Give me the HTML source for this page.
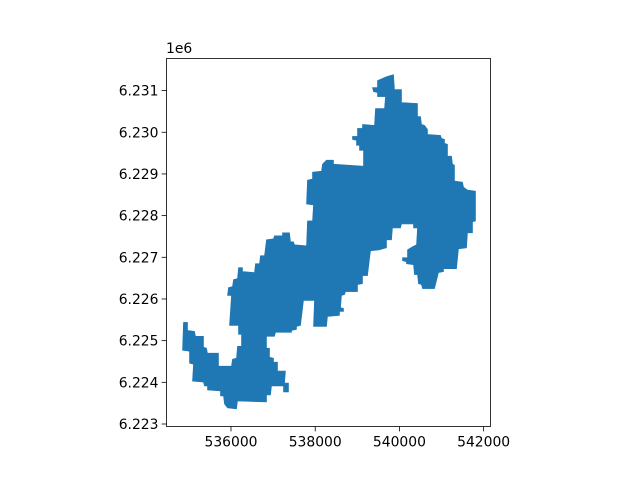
<!DOCTYPE html>
<html><head><meta charset="utf-8"><style>
body{margin:0;background:#fff;}
svg text{font-family:"DejaVu Sans","Liberation Sans",sans-serif;font-size:13.9px;fill:#000;}
</style></head><body>
<svg id="chart" width="640" height="480" viewBox="0 0 640 480" xmlns="http://www.w3.org/2000/svg">
<rect width="640" height="480" fill="#fff"/>
<g id="plot"></g>
<g id="axes"></g>
<text x="166" y="53">1e6</text>
</svg>
<script>
const xTicks = [536000, 538000, 540000, 542000];
const xTickLabels = ["536000", "538000", "540000", "542000"];
const yTicks = [6223000, 6224000, 6225000, 6226000, 6227000, 6228000, 6229000, 6230000, 6231000];
const yTickLabels = ["6.223", "6.224", "6.225", "6.226", "6.227", "6.228", "6.229", "6.230", "6.231"];
const polyX = [539859,539883,540049,540049,540429,540429,540501,540524,540596,540667,540667,540976,540999,541071,541071,541142,541142,541237,541261,541308,541308,541498,541522,541617,541807,541807,541736,541736,541617,541593,541403,541356,541047,541047,540928,540833,540548,540524,540453,540429,540358,540334,540168,540168,540073,540073,540192,540192,540311,540406,540429,540334,540334,540049,540026,539836,539812,539693,539693,539527,539313,539242,539123,539123,539004,539004,538719,538696,538624,538601,538672,538672,538577,538577,538292,538268,537959,537983,537722,537651,537556,537556,537437,537437,537057,537033,536843,536843,536914,536914,537009,537009,537104,537104,537294,537271,537366,537366,537247,537247,536962,536938,536843,536843,536154,536131,535917,535846,535822,535751,535751,535442,535442,535371,535347,535086,535109,535014,535014,534848,534872,534967,534967,535133,535157,535347,535347,535418,535442,535703,535703,536012,536036,536131,536154,536249,536249,536178,536178,535964,536012,535917,535941,536036,536059,536154,536178,536273,536273,536558,536582,536677,536701,536796,536843,537009,537033,537223,537223,537389,537413,537484,537508,537793,537817,537936,537959,537793,537817,537936,537936,538149,538173,538268,538434,538434,539147,539147,539052,539052,538981,538981,538886,538886,539004,539004,539123,539123,539408,539432,539646,539669,539479,539479,539384,539361,539479,539479,539693];
const polyY = [6231382,6231024,6231024,6230714,6230690,6230379,6230379,6230188,6230165,6230069,6229950,6229926,6229854,6229830,6229735,6229711,6229425,6229425,6229234,6229210,6228828,6228804,6228685,6228613,6228589,6227873,6227849,6227587,6227587,6227229,6227205,6226727,6226727,6226656,6226632,6226250,6226250,6226345,6226369,6226584,6226584,6226823,6226847,6226894,6226918,6226990,6226990,6227181,6227252,6227300,6227706,6227706,6227801,6227801,6227706,6227706,6227419,6227419,6227229,6227181,6227157,6226560,6226560,6226369,6226345,6226178,6226178,6226107,6226083,6225796,6225772,6225701,6225701,6225605,6225582,6225343,6225343,6225963,6225963,6225367,6225343,6225271,6225247,6225200,6225200,6225104,6225104,6224818,6224818,6224603,6224579,6224483,6224483,6224269,6224269,6223982,6223982,6223767,6223767,6223911,6223911,6223696,6223696,6223529,6223553,6223362,6223386,6223481,6223672,6223672,6223791,6223815,6223911,6223911,6224006,6224030,6224436,6224460,6224746,6224770,6225438,6225438,6225247,6225223,6225104,6225104,6224842,6224818,6224698,6224698,6224388,6224388,6224555,6224579,6224865,6224865,6225152,6225152,6225367,6225367,6226083,6226083,6226274,6226298,6226465,6226488,6226751,6226751,6226656,6226632,6226847,6226847,6227038,6227038,6227419,6227443,6227515,6227515,6227587,6227587,6227372,6227372,6227300,6227276,6227873,6227873,6228255,6228279,6228852,6228876,6229043,6229067,6229234,6229329,6229329,6229234,6229186,6229568,6229568,6229687,6229687,6229806,6229830,6229902,6229902,6230093,6230093,6230188,6230165,6230570,6230570,6230857,6230857,6230952,6230976,6231072,6231072,6231239,6231334];

const L = 166.5, R = 490.5, T = 58.5, B = 426.5;
const xMin = 534468, xMax = 542163, yMin = 6222940, yMax = 6231770;
function sx(v){ return L + (v - xMin) / (xMax - xMin) * (R - L); }
function sy(v){ return B - (v - yMin) / (yMax - yMin) * (B - T); }
const NS = "http://www.w3.org/2000/svg";
const plot = document.getElementById('plot');
const axes = document.getElementById('axes');

const poly = document.createElementNS(NS, 'polygon');


poly.setAttribute('points', polyX.map((x, i) => sx(x).toFixed(1) + ',' + sy(polyY[i]).toFixed(1)).join(' '));
poly.setAttribute('fill', '#1f77b4');
poly.setAttribute('stroke', '#1f77b4');
poly.setAttribute('stroke-width', '0.6');
plot.appendChild(poly);

const frame = document.createElementNS(NS, 'rect');


frame.setAttribute('x', L); frame.setAttribute('y', T);
frame.setAttribute('width', R - L); frame.setAttribute('height', B - T);
frame.setAttribute('fill', 'none'); frame.setAttribute('stroke', '#000'); frame.setAttribute('stroke-width', '0.8');
axes.appendChild(frame);

xTicks.forEach((v, i) => {
  const x = sx(v);
  const t = document.createElementNS(NS, 'line');
  
  
  t.setAttribute('x1', x); t.setAttribute('x2', x); t.setAttribute('y1', B); t.setAttribute('y2', B + 4.9);
  t.setAttribute('stroke', '#000'); t.setAttribute('stroke-width', '0.8');
  axes.appendChild(t);
  const lb = document.createElementNS(NS, 'text');
  
  
  lb.setAttribute('x', x); lb.setAttribute('y', B + 20); lb.setAttribute('text-anchor', 'middle');
  lb.textContent = xTickLabels[i];
  axes.appendChild(lb);
});
yTicks.forEach((v, i) => {
  const y = sy(v);
  const t = document.createElementNS(NS, 'line');
  
  
  t.setAttribute('x1', L - 4.9); t.setAttribute('x2', L); t.setAttribute('y1', y); t.setAttribute('y2', y);
  t.setAttribute('stroke', '#000'); t.setAttribute('stroke-width', '0.8');
  axes.appendChild(t);
  const lb = document.createElementNS(NS, 'text');
  
  
  lb.setAttribute('x', L - 8); lb.setAttribute('y', y + 5); lb.setAttribute('text-anchor', 'end');
  lb.textContent = yTickLabels[i];
  axes.appendChild(lb);
});
</script>
</body></html>
